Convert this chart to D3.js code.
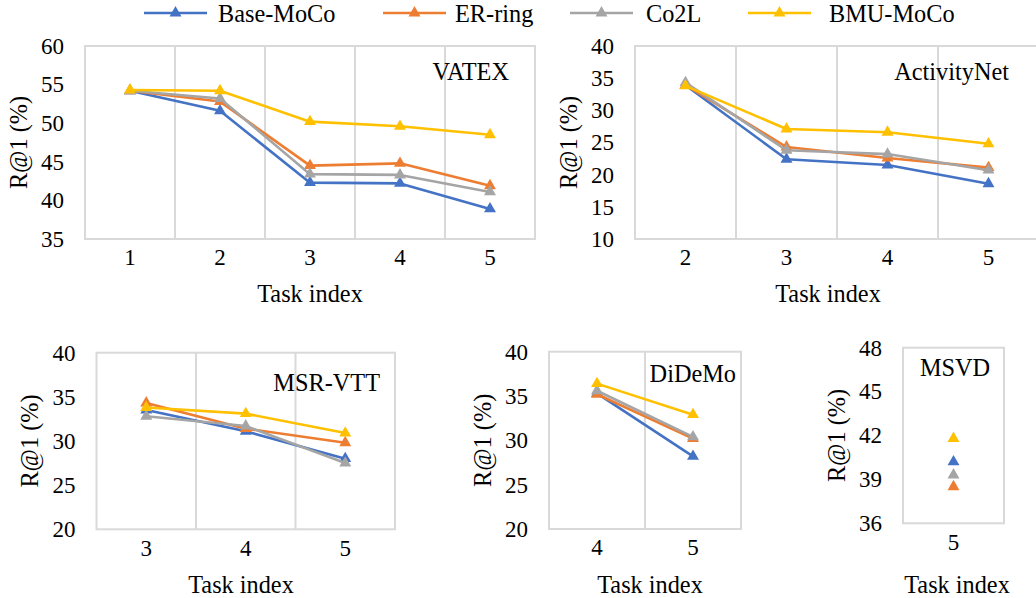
<!DOCTYPE html>
<html>
<head>
<meta charset="utf-8">
<script src="https://cdn.jsdelivr.net/npm/d3@7"></script>
<style>
  body { margin: 0; background: #fff; }
</style>
</head>
<body>
<div id="chart"></div>
<script>
// series names and colours
const seriesNames = ["Base-MoCo", "ER-ring", "Co2L", "BMU-MoCo"];
const seriesColors = ["#4472C4", "#ED7D31", "#A5A5A5", "#FFC000"];

// VATEX
const vatexTasks = [1, 2, 3, 4, 5];
const vatexTicks = [35, 40, 45, 50, 55, 60];
const vatexValues = [
    [54.2, 51.6, 42.3, 42.2, 38.9],
    [54.2, 52.8, 44.5, 44.8, 41.9],
    [54.2, 53.2, 43.4, 43.3, 41.1],
    [54.3, 54.2, 50.2, 49.6, 48.5]
];

// ActivityNet
const anetTasks = [2, 3, 4, 5];
const anetTicks = [10, 15, 20, 25, 30, 35, 40];
const anetValues = [
    [33.9, 22.4, 21.5, 18.6],
    [33.9, 24.3, 22.6, 21.1],
    [34.3, 23.8, 23.2, 20.7],
    [33.8, 27.1, 26.6, 24.8]
];

// MSR-VTT
const msrTasks = [3, 4, 5];
const msrTicks = [20, 25, 30, 35, 40];
const msrValues = [
    [33.5, 31.1, 28.0],
    [34.3, 31.4, 29.8],
    [32.8, 31.7, 27.5],
    [33.8, 33.1, 30.9]
];

// DiDeMo
const didemoTasks = [4, 5];
const didemoTicks = [20, 25, 30, 35, 40];
const didemoValues = [
    [35.3, 28.2],
    [35.2, 30.2],
    [35.6, 30.4],
    [36.4, 32.9]
];

// MSVD
const msvdTasks = [5];
const msvdTicks = [36, 39, 42, 45, 48];
const msvdValues = [
    [40.2],
    [38.5],
    [39.3],
    [41.8]
];

const panels = [
    { name: "VATEX", tasks: vatexTasks, ticks: vatexTicks, values: vatexValues,
      x0: 85, x1: 535, y0: 46, y1: 239, labelX: 509, labelY: 71, anchor: "end", titleY: 293 },
    { name: "ActivityNet", tasks: anetTasks, ticks: anetTicks, values: anetValues,
      x0: 635, x1: 1039, y0: 46, y1: 239, labelX: 1009, labelY: 71, anchor: "end", titleY: 293, titleX: 828 },
    { name: "MSR-VTT", tasks: msrTasks, ticks: msrTicks, values: msrValues,
      x0: 96.5, x1: 395, y0: 352.7, y1: 529.3, labelX: 380, labelY: 382, anchor: "end", titleY: 584, titleX: 241 },
    { name: "DiDeMo", tasks: didemoTasks, ticks: didemoTicks, values: didemoValues,
      x0: 549, x1: 741, y0: 351.7, y1: 529, labelX: 736, labelY: 373, anchor: "end", titleY: 584, titleX: 650 },
    { name: "MSVD", tasks: msvdTasks, ticks: msvdTicks, values: msvdValues,
      x0: 903, x1: 1004, y0: 347.7, y1: 523.3, labelX: 955, labelY: 367, anchor: "middle", titleY: 584, titleX: 957 }
];

const svg = d3.select("#chart")
    .append("svg")
    .attr("width", 1036)
    .attr("height", 598);

const fontSize = 24.3;
const tickFontSize = 23;
const fontFamily = "Liberation Serif";
const gridColor = "#d9d9d9";

function serif(sel, size) {
    sel.attr("font-family", fontFamily)
        .style("font-family", fontFamily)
        .style("font-size", (size || fontSize) + "px")
        .attr("fill", "#000");
    return sel;
}

panels.forEach(p => {
    const g = svg.append("g");

    const x = d3.scaleBand()
        .domain(p.tasks)
        .range([p.x0, p.x1]);

    const y = d3.scaleLinear()
        .domain([d3.min(p.ticks), d3.max(p.ticks)])
        .range([p.y1, p.y0]);

    // vertical gridlines between categories
    g.selectAll(".grid")
        .data(p.tasks.slice(1))
        .enter().append("line")
        .attr("x1", d => x(d))
        .attr("x2", d => x(d))
        .attr("y1", p.y0)
        .attr("y2", p.y1)
        .attr("stroke", gridColor)
        .attr("stroke-width", 2);

    // plot border
    g.append("rect")
        .attr("x", p.x0)
        .attr("y", p.y0)
        .attr("width", p.x1 - p.x0)
        .attr("height", p.y1 - p.y0)
        .attr("fill", "none")
        .attr("stroke", gridColor)
        .attr("stroke-width", 2);

    // y axis labels
    const yAxis = g.append("g")
        .attr("transform", "translate(" + (p.x0 - 10) + ",0)")
        .call(d3.axisLeft(y).tickValues(p.ticks).tickSize(0).tickPadding(11));
    yAxis.select(".domain").remove();
    yAxis.attr("font-family", fontFamily);
    serif(yAxis.selectAll("text"), tickFontSize);

    // x axis labels
    const xAxis = g.append("g")
        .attr("transform", "translate(0," + p.y1 + ")")
        .call(d3.axisBottom(x).tickSize(0).tickPadding(10));
    xAxis.select(".domain").remove();
    xAxis.attr("font-family", fontFamily);
    serif(xAxis.selectAll("text"), tickFontSize);

    // axis titles
    serif(g.append("text"))
        .attr("x", p.titleX || (p.x0 + p.x1) / 2)
        .attr("y", p.titleY)
        .attr("dy", "0.35em")
        .attr("text-anchor", "middle")
        .text("Task index");

    serif(g.append("text"))
        .attr("transform", "translate(" + (p.x0 - 67) + "," + ((p.y0 + p.y1) / 2) + ") rotate(-90)")
        .attr("dy", "0.35em")
        .attr("text-anchor", "middle")
        .text("R@1 (%)");

    // dataset label
    serif(g.append("text"))
        .attr("x", p.labelX)
        .attr("y", p.labelY)
        .attr("dy", "0.35em")
        .attr("text-anchor", p.anchor)
        .text(p.name);

    const line = d3.line()
        .x((d, i) => x(p.tasks[i]) + x.bandwidth() / 2)
        .y(d => y(d));

    p.values.forEach((vals, s) => {
        if (vals.length > 1) {
            g.append("path")
                .datum(vals)
                .attr("fill", "none")
                .attr("stroke", seriesColors[s])
                .attr("stroke-width", 2.6)
                .attr("stroke-linejoin", "round")
                .attr("d", line);
        }
        g.selectAll(".m" + s)
            .data(vals)
            .enter().append("path")
            .attr("class", "m" + s)
            .attr("d", d3.symbol().type(d3.symbolTriangle).size(62))
            .attr("transform", (d, i) => "translate(" + (x(p.tasks[i]) + x.bandwidth() / 2) + "," + y(d) + ")")
            .attr("fill", seriesColors[s]);
    });
});

// legend
const legendX = [144, 383, 570, 748];
const legend = svg.append("g").attr("class", "legend");
const items = legend.selectAll(".legend-item")
    .data(seriesNames)
    .enter().append("g")
    .attr("class", "legend-item")
    .attr("transform", (d, i) => "translate(" + legendX[i] + ",13)");

items.append("line")
    .attr("x1", 0)
    .attr("x2", 63)
    .attr("stroke", (d, i) => seriesColors[i])
    .attr("stroke-width", 2.6);

items.append("path")
    .attr("d", d3.symbol().type(d3.symbolTriangle).size(62))
    .attr("transform", "translate(31.5,0)")
    .attr("fill", (d, i) => seriesColors[i]);

const textOffsets = [74, 72, 76, 81];
serif(items.append("text"))
    .attr("x", (d, i) => textOffsets[i])
    .attr("dy", "0.35em")
    .text(d => d);
</script>
</body>
</html>
